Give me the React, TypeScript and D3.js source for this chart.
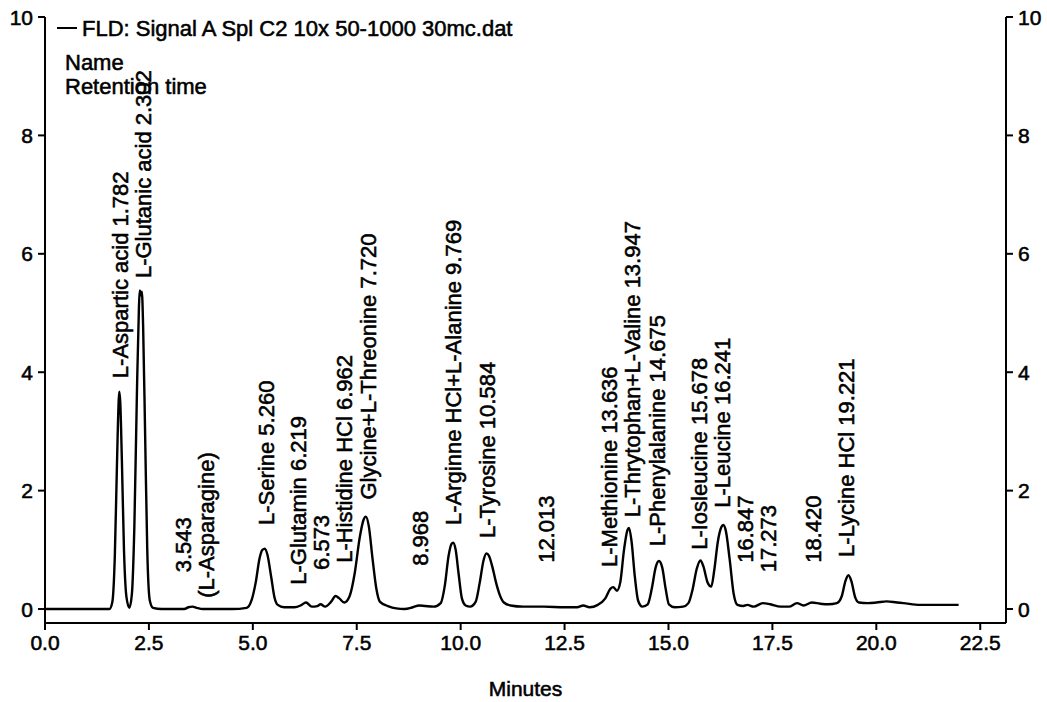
import React from 'react';
import * as d3 from 'd3';

// Chromatogram trace: retention time (min) and signal
const traceTime = [
  0, 1.55, 1.62, 1.68, 1.73, 1.775, 1.79, 1.81, 1.85, 1.9, 1.96, 2.03, 2.09, 2.15, 2.21, 2.26, 2.28, 2.31, 2.33,
  2.36, 2.41, 2.46, 2.52, 2.6, 2.8, 3.35, 3.45, 3.55, 3.65, 3.8, 4.5, 4.85, 4.97, 5.07, 5.16, 5.23, 5.29, 5.35,
  5.44, 5.52, 5.6, 5.75, 6.0, 6.15, 6.28, 6.42, 6.55, 6.63, 6.74, 6.88, 6.99, 7.08, 7.2, 7.33, 7.45, 7.57, 7.66,
  7.72, 7.79, 7.88, 7.97, 8.06, 8.25, 8.45, 8.65, 8.85, 9.0, 9.15, 9.35, 9.52, 9.62, 9.71, 9.78, 9.82, 9.88, 9.95,
  10.03, 10.12, 10.23, 10.36, 10.46, 10.55, 10.62, 10.68, 10.76, 10.85, 10.94, 11.04, 11.2, 11.5, 12.0, 12.5,
  12.8, 12.95, 13.1, 13.3, 13.48, 13.6, 13.67, 13.76, 13.84, 13.93, 14.01, 14.05, 14.11, 14.19, 14.27, 14.37,
  14.5, 14.6, 14.69, 14.77, 14.85, 14.93, 15.01, 15.15, 15.35, 15.48, 15.58, 15.68, 15.77, 15.84, 15.94, 16.03,
  16.1, 16.19, 16.27, 16.32, 16.38, 16.47, 16.57, 16.66, 16.8, 16.9, 17.05, 17.27, 17.45, 17.7, 17.9, 18.09,
  18.25, 18.45, 18.65, 18.85, 19.05, 19.17, 19.26, 19.33, 19.4, 19.49, 19.58, 19.8, 20.0, 20.25, 20.5, 20.65,
  21.05, 21.98,
];
const traceSignal = [
  0, 0, 0.12, 0.9, 2.4, 3.55, 3.67, 3.5, 2.5, 1.0, 0.2, 0.02, 0.25, 1.4, 3.6, 5.1, 5.38, 5.3, 5.36,
  4.8, 2.9, 1.0, 0.15, 0.02, 0, 0, 0.03, 0.04, 0.02, 0, 0, 0.02, 0.15, 0.45, 0.85, 1.0, 1.02, 0.92,
  0.55, 0.2, 0.07, 0.03, 0.03, 0.06, 0.11, 0.04, 0.05, 0.08, 0.04, 0.12, 0.22, 0.18, 0.11, 0.22, 0.6, 1.2, 1.5,
  1.56, 1.4, 0.85, 0.35, 0.12, 0.05, 0.01, 0, 0.03, 0.06, 0.05, 0.04, 0.1, 0.4, 0.9, 1.1, 1.12, 1.0, 0.6,
  0.18, 0.06, 0.04, 0.12, 0.45, 0.82, 0.94, 0.9, 0.72, 0.45, 0.24, 0.11, 0.06, 0.04, 0.04, 0.03,
  0.03, 0.06, 0.03, 0.07, 0.18, 0.34, 0.37, 0.31, 0.45, 1.0, 1.33, 1.37, 1.15, 0.55, 0.14, 0.04,
  0.08, 0.35, 0.7, 0.81, 0.7, 0.35, 0.08, 0.03, 0.04, 0.1, 0.33, 0.68, 0.82, 0.72, 0.45, 0.38,
  0.65, 1.15, 1.38, 1.42, 1.32, 0.85, 0.25, 0.07, 0.05, 0.07, 0.04, 0.1, 0.08, 0.04, 0.04, 0.1,
  0.06, 0.11, 0.09, 0.08, 0.1, 0.22, 0.48, 0.57, 0.47, 0.2, 0.11, 0.1, 0.11, 0.13, 0.11, 0.1,
  0.07, 0.07,
];

// Peak annotations: text, retention time, signal level where the text starts
const labelText = [
  'L-Aspartic acid 1.782', 'L-Glutanic acid 2.302', '3.543', '(L-Asparagine)', 'L-Serine 5.260',
  'L-Glutamin 6.219', '6.573', 'L-Histidine HCl 6.962', 'Glycine+L-Threonine 7.720', '8.968',
  'L-Arginne HCl+L-Alanine 9.769', 'L-Tyrosine 10.584', '12.013', 'L-Methionine 13.636',
  'L-Thrytophan+L-Valine 13.947', 'L-Phenylalanine 14.675', 'L-Iosleucine 15.678', 'L-Leucine 16.241',
  '16.847', '17.273', '18.420', 'L-Lycine HCl 19.221',
];
const labelTime = [
  1.782, 2.302, 3.543, 3.543, 5.26, 6.219, 6.573, 6.962, 7.72, 8.968, 9.769, 10.584, 12.013, 13.636,
  13.947, 14.675, 15.678, 16.241, 16.847, 17.273, 18.42, 19.221,
];
const labelLevel = [
  3.9, 5.59, 0.62, 0.19, 1.42, 0.41, 0.66, 0.78, 1.85, 0.73, 1.42, 1.2, 0.78, 0.71,
  1.55, 1.06, 1.0, 1.71, 0.78, 0.62, 0.78, 0.88,
];

const xTicks = [0, 2.5, 5, 7.5, 10, 12.5, 15, 17.5, 20, 22.5];
const yTicks = [0, 2, 4, 6, 8, 10];
const legendText = 'FLD: Signal A Spl C2 10x 50-1000 30mc.dat';
const infoLines = ['Name', 'Retention time'];
const xTitle = 'Minutes';

const W = 1047;
const H = 702;
const FONT = '"Liberation Sans", Arial, Helvetica, sans-serif';

export default function App() {
  const left = 45;
  const right = 1006;
  const top = 17;
  const bottom = 623;
  const x = d3.scaleLinear().domain([0, 23.12]).range([left, right]);
  const y = d3.scaleLinear().domain([-0.236, 10]).range([bottom, top]);

  const pts: [number, number][] = traceTime.map((t, i) => [t, traceSignal[i]]);
  const line = d3
    .line<[number, number]>()
    .x((d) => x(d[0]))
    .y((d) => y(d[1]))
    .curve(d3.curveMonotoneX);

  // label layout: resolve overlaps by pooling clusters symmetrically
  const gap = 23;
  const order = labelTime.map((_, i) => i).sort((a, b) => labelTime[a] - labelTime[b] || a - b);
  const desired = order.map((i) => x(labelTime[i]) + 2);
  const clusters = desired.map((d, k) => ({ items: [k], center: d }));
  const pos = (c: { items: number[]; center: number }) =>
    c.items.map((_, j) => c.center + (j - (c.items.length - 1) / 2) * gap);
  let changed = true;
  while (changed) {
    changed = false;
    for (let k = 0; k < clusters.length - 1; k++) {
      const a = clusters[k];
      const b = clusters[k + 1];
      const pa = pos(a);
      const pb = pos(b);
      if (pb[0] - pa[pa.length - 1] < gap - 0.01) {
        const items = a.items.concat(b.items);
        const center = d3.mean(items, (it) => desired[it]) as number;
        clusters.splice(k, 2, { items, center });
        changed = true;
        break;
      }
    }
  }
  const labelX: number[] = new Array(labelTime.length).fill(0);
  clusters.forEach((c) => {
    const p = pos(c);
    c.items.forEach((it, j) => {
      labelX[order[it]] = p[j];
    });
  });

  const textStyle = { fontFamily: FONT, fill: '#000', stroke: '#000', strokeWidth: 0.55 };

  return (
    <svg width={W} height={H} style={{ position: 'absolute', left: 0, top: 0, background: '#fff' }}>
      <rect x={0} y={0} width={W} height={H} fill="#fff" />
      {/* axes lines */}
      <line x1={left} x2={left} y1={top} y2={bottom} stroke="#000" strokeWidth={2} />
      <line x1={right} x2={right} y1={top} y2={bottom} stroke="#000" strokeWidth={2} />
      <line x1={left} x2={right} y1={bottom} y2={bottom} stroke="#000" strokeWidth={2} />
      {yTicks.map((v) => (
        <g key={'yl' + v}>
          <line x1={left - 7} x2={left} y1={y(v)} y2={y(v)} stroke="#000" strokeWidth={2} />
          <text x={left - 12} y={y(v)} dy="0.36em" textAnchor="end" fontSize={21} style={textStyle}>
            {v}
          </text>
          <line x1={right} x2={right + 7} y1={y(v)} y2={y(v)} stroke="#000" strokeWidth={2} />
          <text x={right + 12} y={y(v)} dy="0.36em" textAnchor="start" fontSize={21} style={textStyle}>
            {v}
          </text>
        </g>
      ))}
      {xTicks.map((v) => (
        <g key={'xt' + v}>
          <line x1={x(v)} x2={x(v)} y1={bottom} y2={bottom + 7} stroke="#000" strokeWidth={2} />
          <text x={x(v)} y={bottom + 27} textAnchor="middle" fontSize={21} style={textStyle}>
            {d3.format('.1f')(v)}
          </text>
        </g>
      ))}
      <text x={(left + right) / 2} y={696} textAnchor="middle" fontSize={21} style={textStyle}>
        {xTitle}
      </text>

      {/* trace */}
      <path d={line(pts) || ''} fill="none" stroke="#000" strokeWidth={2.4} strokeLinejoin="round" />

      {/* legend */}
      <line x1={57} x2={77} y1={28} y2={28} stroke="#000" strokeWidth={2} />
      <text x={82} y={36} fontSize={22} style={textStyle}>
        {legendText}
      </text>
      {infoLines.map((s, i) => (
        <text key={s} x={65} y={70 + i * 24} fontSize={22} style={textStyle}>
          {s}
        </text>
      ))}

      {/* peak labels */}
      {labelText.map((s, i) => (
        <text
          key={s}
          transform={`translate(${labelX[i]},${y(labelLevel[i])}) rotate(-90)`}
          dy="0.36em"
          fontSize={22}
          style={textStyle}
        >
          {s}
        </text>
      ))}
    </svg>
  );
}
